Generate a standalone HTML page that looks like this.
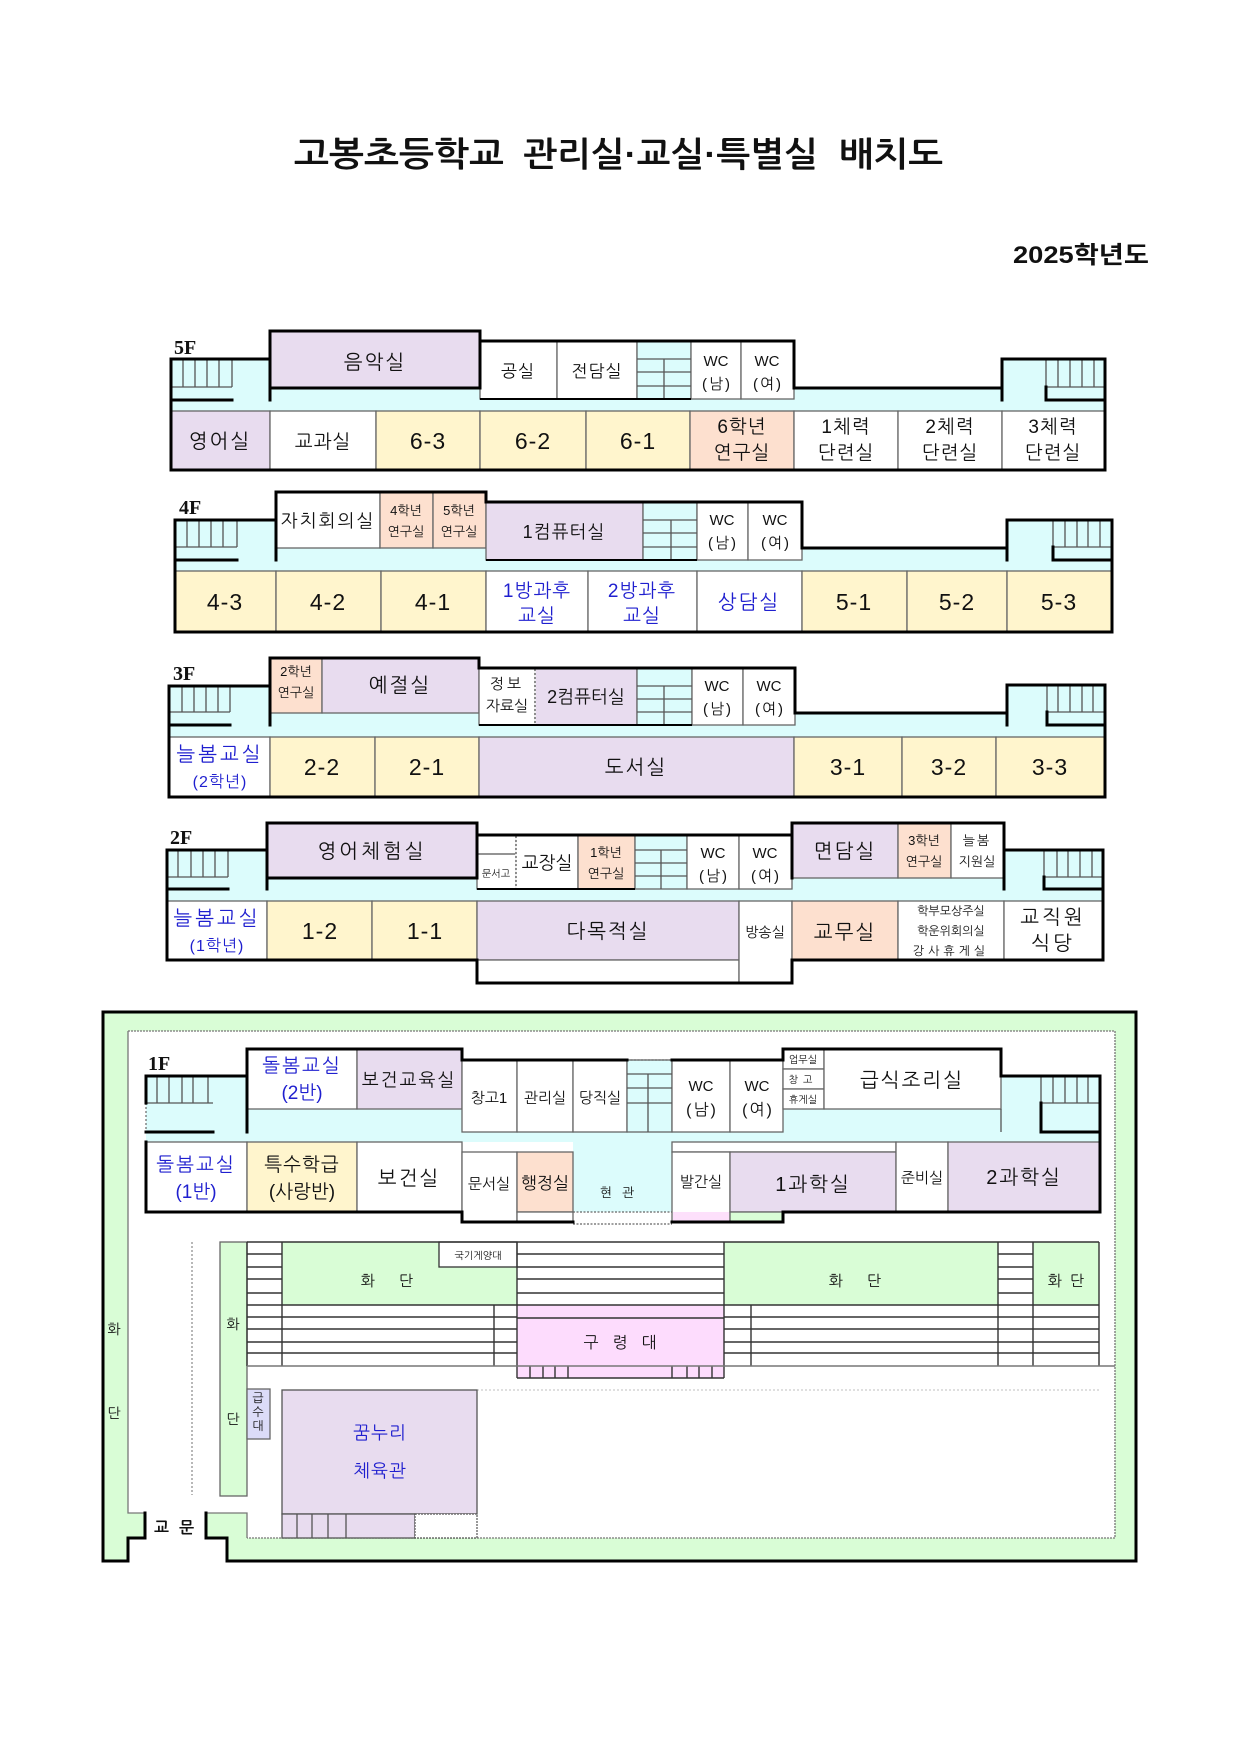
<!DOCTYPE html>
<html><head><meta charset="utf-8">
<style>
html,body{margin:0;padding:0;background:#fff;}
svg{display:block;}
text{font-family:"Liberation Sans","NanumGothic","Noto Sans CJK KR",sans-serif;fill:#111;text-anchor:middle;}
.c{stroke:#666;stroke-width:1.3;}
.t{stroke:#555;stroke-width:1.3;fill:none;}
.k{stroke:#000;stroke-width:3;fill:none;stroke-linecap:square;}
.b{fill:#1f1fcf;}
.fl{font-family:"Liberation Serif",serif;font-weight:bold;font-size:20px;text-anchor:start;}
.wc{font-family:"Liberation Sans Narrow","Liberation Sans",sans-serif;font-size:15px;}
.p{font-size:15px;letter-spacing:2px;}
.L{font-size:20px;letter-spacing:2px;}
.M{font-size:19px;letter-spacing:1px;}
.N{font-size:23px;letter-spacing:1px;}
</style></head>
<body>
<svg width="1240" height="1753" viewBox="0 0 1240 1753" xmlns="http://www.w3.org/2000/svg">
<rect width="1240" height="1753" fill="#fff"/>

<!-- Title -->
<g style='font-family:"Liberation Sans","Noto Sans CJK KR",sans-serif' font-weight="bold" font-size="34">
<text x="294" y="166" style="text-anchor:start" textLength="210" lengthAdjust="spacingAndGlyphs">고봉초등학교</text>
<text x="523" y="166" style="text-anchor:start" textLength="295" lengthAdjust="spacingAndGlyphs">관리실·교실·특별실</text>
<text x="839" y="166" style="text-anchor:start" textLength="104" lengthAdjust="spacingAndGlyphs">배치도</text>
</g>
<text x="1013" y="263" font-size="24" font-weight="bold" textLength="136" lengthAdjust="spacingAndGlyphs" style='text-anchor:start;font-family:"Liberation Sans","Noto Sans CJK KR",sans-serif'>2025학년도</text>

<!-- ================= 5F ================= -->
<g>
<rect x="171" y="359" width="99" height="52" fill="#dcfcfc"/>
<rect x="171" y="388" width="934" height="23" fill="#dcfcfc"/>
<rect x="1002" y="359" width="103" height="52" fill="#dcfcfc"/>
<rect class="c" x="270" y="331" width="210" height="57" fill="#e8dcef"/>
<rect class="c" x="480" y="341" width="77" height="58" fill="#fff"/>
<rect class="c" x="557" y="341" width="80" height="58" fill="#fff"/>
<rect class="c" x="637" y="341" width="54" height="58" fill="#dcfcfc"/>
<rect class="c" x="691" y="341" width="50" height="58" fill="#fff"/>
<rect class="c" x="741" y="341" width="53" height="58" fill="#fff"/>
<path class="t" d="M637,359H691M637,372H691M637,386H691M664,359V399"/>
<path class="t" d="M183,359V387M195,359V387M207,359V387M219,359V387M232,359V387M171,387H232"/>
<path class="t" d="M1046,359V387M1058,359V387M1070,359V387M1082,359V387M1094,359V387M1046,387H1105"/>
<rect class="c" x="171" y="411" width="99" height="59" fill="#e8dcef"/>
<rect class="c" x="270" y="411" width="106" height="59" fill="#fff"/>
<rect class="c" x="376" y="411" width="104" height="59" fill="#fff5cd"/>
<rect class="c" x="480" y="411" width="106" height="59" fill="#fff5cd"/>
<rect class="c" x="586" y="411" width="104" height="59" fill="#fff5cd"/>
<rect class="c" x="690" y="411" width="104" height="59" fill="#fde0cf"/>
<rect class="c" x="794" y="411" width="104" height="59" fill="#fff"/>
<rect class="c" x="898" y="411" width="104" height="59" fill="#fff"/>
<rect class="c" x="1002" y="411" width="103" height="59" fill="#fff"/>
<path class="k" d="M171,470V359H270M270,331H480V388M270,331V400M270,388H480M480,341H794V388H1002V359H1105V470H171M1002,388V400M171,400H232M1046,387V400H1105"/>
<path d="M480,399H691" stroke="#000" stroke-width="2"/>
<text class="fl" x="174" y="354">5F</text>
<text class="L" x="375" y="369">음악실</text>
<text x="518" y="377" font-size="17" letter-spacing="1">공실</text>
<text x="597" y="377" font-size="17" letter-spacing="1">전담실</text>
<text class="wc" x="716" y="366">WC</text><text class="p" x="717" y="389">(남)</text>
<text class="wc" x="767" y="366">WC</text><text class="p" x="768" y="389">(여)</text>
<text class="L" x="220" y="448">영어실</text>
<text class="M" x="323" y="448">교과실</text>
<text class="N" x="428" y="449">6-3</text>
<text class="N" x="533" y="449">6-2</text>
<text class="N" x="638" y="449">6-1</text>
<text class="M" x="742" y="433">6학년</text><text class="M" x="742" y="459">연구실</text>
<text class="M" x="846" y="433">1체력</text><text class="M" x="846" y="459">단련실</text>
<text class="M" x="950" y="433">2체력</text><text class="M" x="950" y="459">단련실</text>
<text class="M" x="1053" y="433">3체력</text><text class="M" x="1053" y="459">단련실</text>
</g>

<!-- ================= 4F ================= -->
<g>
<rect x="175" y="520" width="101" height="51" fill="#dcfcfc"/>
<rect x="175" y="548" width="937" height="23" fill="#dcfcfc"/>
<rect x="1007" y="520" width="105" height="51" fill="#dcfcfc"/>
<rect class="c" x="276" y="492" width="104" height="56" fill="#fff"/>
<rect class="c" x="380" y="492" width="53" height="56" fill="#fde0cf"/>
<rect class="c" x="433" y="492" width="53" height="56" fill="#fde0cf"/>
<rect class="c" x="486" y="502" width="157" height="58" fill="#e8dcef"/>
<rect class="c" x="643" y="502" width="54" height="58" fill="#dcfcfc"/>
<rect class="c" x="697" y="502" width="51" height="58" fill="#fff"/>
<rect class="c" x="748" y="502" width="54" height="58" fill="#fff"/>
<path class="t" d="M643,520H697M643,533H697M643,547H697M671,520V560"/>
<path class="t" d="M187,520V547M199,520V547M211,520V547M223,520V547M237,520V547M175,547H237"/>
<path class="t" d="M1053,520V547M1065,520V547M1077,520V547M1088,520V547M1100,520V547M1053,547H1112"/>
<rect class="c" x="175" y="571" width="101" height="61" fill="#fff5cd"/>
<rect class="c" x="276" y="571" width="105" height="61" fill="#fff5cd"/>
<rect class="c" x="381" y="571" width="105" height="61" fill="#fff5cd"/>
<rect class="c" x="486" y="571" width="102" height="61" fill="#fff"/>
<rect class="c" x="588" y="571" width="109" height="61" fill="#fff"/>
<rect class="c" x="697" y="571" width="105" height="61" fill="#fff"/>
<rect class="c" x="802" y="571" width="105" height="61" fill="#fff5cd"/>
<rect class="c" x="907" y="571" width="100" height="61" fill="#fff5cd"/>
<rect class="c" x="1007" y="571" width="105" height="61" fill="#fff5cd"/>
<path class="k" d="M175,632V520H276M276,492H486V502M276,492V560M486,502H802V548H1007V520H1112V632H175M1007,548V560M175,560H237M1053,547V560H1112"/>
<path d="M486,560H697" stroke="#000" stroke-width="2"/>
<text class="fl" x="179" y="514">4F</text>
<text x="328" y="527" font-size="18" letter-spacing="2">자치회의실</text>
<text x="406" y="515" font-size="13">4학년</text><text x="406" y="536" font-size="13">연구실</text>
<text x="459" y="515" font-size="13">5학년</text><text x="459" y="536" font-size="13">연구실</text>
<text x="564" y="538" font-size="18" letter-spacing="1">1컴퓨터실</text>
<text class="wc" x="722" y="525">WC</text><text class="p" x="723" y="548">(남)</text>
<text class="wc" x="775" y="525">WC</text><text class="p" x="776" y="548">(여)</text>
<text class="N" x="225" y="610">4-3</text>
<text class="N" x="328" y="610">4-2</text>
<text class="N" x="433" y="610">4-1</text>
<text class="b M" x="537" y="597">1방과후</text><text class="b M" x="537" y="622">교실</text>
<text class="b M" x="642" y="597">2방과후</text><text class="b M" x="642" y="622">교실</text>
<text class="b L" x="749" y="609">상담실</text>
<text class="N" x="854" y="610">5-1</text>
<text class="N" x="957" y="610">5-2</text>
<text class="N" x="1059" y="610">5-3</text>
</g>

<!-- ================= 3F ================= -->
<g>
<rect x="169" y="686" width="101" height="51" fill="#dcfcfc"/>
<rect x="169" y="713" width="936" height="24" fill="#dcfcfc"/>
<rect x="1007" y="685" width="98" height="52" fill="#dcfcfc"/>
<rect class="c" x="270" y="658" width="52" height="55" fill="#fde0cf"/>
<rect class="c" x="322" y="658" width="157" height="55" fill="#e8dcef"/>
<rect class="c" x="479" y="668" width="56" height="57" fill="#fff"/>
<rect class="c" x="535" y="668" width="102" height="57" fill="#e8dcef"/>
<rect class="c" x="637" y="668" width="55" height="57" fill="#dcfcfc"/>
<rect class="c" x="692" y="668" width="51" height="57" fill="#fff"/>
<rect class="c" x="743" y="668" width="52" height="57" fill="#fff"/>
<path d="M535,669V724" stroke="#fff" stroke-width="1.6"/>
<path d="M535,669V724" stroke="#555" stroke-width="1.2" stroke-dasharray="2,2"/>
<path class="t" d="M637,686H692M637,699H692M637,712H692M664,686V725"/>
<path class="t" d="M182,686V712M194,686V712M206,686V712M218,686V712M230,686V712M169,712H230"/>
<path class="t" d="M1047,685V712M1058,685V712M1070,685V712M1082,685V712M1093,685V712M1047,712H1105"/>
<rect class="c" x="169" y="737" width="101" height="60" fill="#fff"/>
<rect class="c" x="270" y="737" width="105" height="60" fill="#fff5cd"/>
<rect class="c" x="375" y="737" width="104" height="60" fill="#fff5cd"/>
<rect class="c" x="479" y="737" width="315" height="60" fill="#e8dcef"/>
<rect class="c" x="794" y="737" width="108" height="60" fill="#fff5cd"/>
<rect class="c" x="902" y="737" width="94" height="60" fill="#fff5cd"/>
<rect class="c" x="996" y="737" width="109" height="60" fill="#fff5cd"/>
<path class="k" d="M169,797V686H270M270,658H479V668M270,658V725M479,668H795V713H1007V685H1105V797H169M1007,713V725M169,725H230M1047,712V725H1105"/>
<path d="M479,725H692" stroke="#000" stroke-width="2"/>
<text class="fl" x="173" y="680">3F</text>
<text x="296" y="676" font-size="13">2학년</text><text x="296" y="697" font-size="13">연구실</text>
<text class="L" x="400" y="692">예절실</text>
<text x="507" y="689" font-size="15" letter-spacing="3">정보</text><text x="507" y="711" font-size="15">자료실</text>
<text x="586" y="703" font-size="18">2컴퓨터실</text>
<text class="wc" x="717" y="691">WC</text><text class="p" x="718" y="714">(남)</text>
<text class="wc" x="769" y="691">WC</text><text class="p" x="770" y="714">(여)</text>
<text class="b" x="220" y="761" font-size="20" letter-spacing="3">늘봄교실</text><text class="b" x="220" y="787" font-size="16" letter-spacing="1">(2학년)</text>
<text class="N" x="322" y="775">2-2</text>
<text class="N" x="427" y="775">2-1</text>
<text class="L" x="636" y="774">도서실</text>
<text class="N" x="848" y="775">3-1</text>
<text class="N" x="949" y="775">3-2</text>
<text class="N" x="1050" y="775">3-3</text>
</g>

<!-- ================= 2F ================= -->
<g>
<rect x="167" y="850" width="100" height="51" fill="#dcfcfc"/>
<rect x="167" y="878" width="936" height="23" fill="#dcfcfc"/>
<rect x="1004" y="850" width="99" height="51" fill="#dcfcfc"/>
<rect class="c" x="267" y="823" width="210" height="55" fill="#e8dcef"/>
<rect class="c" x="477" y="835" width="39" height="54" fill="#fff"/>
<rect class="c" x="516" y="835" width="62" height="54" fill="#fff"/>
<rect class="c" x="578" y="835" width="57" height="54" fill="#fde0cf"/>
<rect class="c" x="635" y="835" width="52" height="54" fill="#dcfcfc"/>
<rect class="c" x="687" y="835" width="52" height="54" fill="#fff"/>
<rect class="c" x="739" y="835" width="53" height="54" fill="#fff"/>
<rect class="c" x="792" y="823" width="106" height="55" fill="#e8dcef"/>
<rect class="c" x="898" y="823" width="53" height="55" fill="#fde0cf"/>
<rect class="c" x="951" y="823" width="53" height="55" fill="#fff"/>
<path class="t" d="M477,854H516"/>
<path d="M516,836V888" stroke="#fff" stroke-width="1.6"/>
<path d="M516,836V888" stroke="#555" stroke-width="1.2" stroke-dasharray="2,2"/>
<path class="t" d="M635,850H687M635,863H687M635,876H687M661,850V889"/>
<path class="t" d="M178,850V877M191,850V877M203,850V877M215,850V877M228,850V877M167,877H228"/>
<path class="t" d="M1044,850V877M1057,850V877M1068,850V877M1080,850V877M1092,850V877M1044,877H1103"/>
<rect class="c" x="167" y="901" width="100" height="59" fill="#fff"/>
<rect class="c" x="267" y="901" width="105" height="59" fill="#fff5cd"/>
<rect class="c" x="372" y="901" width="105" height="59" fill="#fff5cd"/>
<rect class="c" x="477" y="901" width="262" height="59" fill="#e8dcef"/>
<rect class="c" x="477" y="960" width="262" height="23" fill="#fff"/>
<rect class="c" x="739" y="901" width="53" height="82" fill="#fff"/>
<rect class="c" x="792" y="901" width="106" height="59" fill="#fde0cf"/>
<rect class="c" x="898" y="901" width="106" height="59" fill="#fff"/>
<rect class="c" x="1004" y="901" width="99" height="59" fill="#fff"/>
<path class="k" d="M167,960V850H267M267,823H477V878H267M267,823V889M477,835H792M792,823H1004V850H1103V960H792V983H477V960H167M792,823V878M1004,850V889M167,889H228M1044,877V889H1103"/>
<path d="M477,889H635" stroke="#000" stroke-width="2"/>
<text class="fl" x="170" y="844">2F</text>
<text x="372" y="858" font-size="20" letter-spacing="3">영어체험실</text>
<text x="496" y="877" font-size="10">문서고</text>
<text x="547" y="869" font-size="18">교장실</text>
<text x="606" y="857" font-size="13">1학년</text><text x="606" y="878" font-size="13">연구실</text>
<text class="wc" x="713" y="858">WC</text><text class="p" x="714" y="881">(남)</text>
<text class="wc" x="765" y="858">WC</text><text class="p" x="766" y="881">(여)</text>
<text class="L" x="845" y="858">면담실</text>
<text x="924" y="845" font-size="13">3학년</text><text x="924" y="866" font-size="13">연구실</text>
<text x="977" y="845" font-size="13" letter-spacing="2">늘봄</text><text x="977" y="866" font-size="13">지원실</text>
<text class="b" x="217" y="925" font-size="20" letter-spacing="3">늘봄교실</text><text class="b" x="217" y="951" font-size="16" letter-spacing="1">(1학년)</text>
<text class="N" x="320" y="939">1-2</text>
<text class="N" x="425" y="939">1-1</text>
<text class="L" x="608" y="938">다목적실</text>
<text x="765" y="937" font-size="14">방송실</text>
<text class="L" x="845" y="939">교무실</text>
<text x="951" y="915" font-size="12">학부모상주실</text>
<text x="951" y="935" font-size="12">학운위회의실</text>
<text x="951" y="955" font-size="12" letter-spacing="4">강사휴게실</text>
<text x="1053" y="924" font-size="20" letter-spacing="3">교직원</text><text x="1053" y="950" font-size="20" letter-spacing="3">식당</text>
</g>

<!-- ================= 1F ================= -->
<g>
<rect x="103" y="1012" width="1033" height="549" fill="#d9fdd6"/>
<path d="M128,1031H1115V1538H247V1513H206V1538H227V1565H128V1538H145V1513H128Z" fill="#fff"/>
<path d="M128,1031H1115V1538H247" fill="none" stroke="#777" stroke-width="1.3" stroke-dasharray="2,1"/>
<path d="M128,1031V1513H145M206,1513H247V1538" fill="none" stroke="#777" stroke-width="1.3"/>
<path class="k" d="M145,1513V1538H128V1561H103V1012H1136V1561H227V1538H206V1513"/>

<rect x="146" y="1076" width="101" height="66" fill="#dcfcfc"/>
<rect x="146" y="1109" width="954" height="33" fill="#dcfcfc"/>
<rect x="1001" y="1076" width="99" height="66" fill="#dcfcfc"/>
<rect x="573" y="1142" width="99" height="70" fill="#dcfcfc"/>
<rect class="c" x="247" y="1049" width="110" height="60" fill="#fff"/>
<rect class="c" x="357" y="1049" width="105" height="60" fill="#e8dcef"/>
<rect class="c" x="462" y="1060" width="55" height="72" fill="#fff"/>
<rect class="c" x="517" y="1060" width="56" height="72" fill="#fff"/>
<rect class="c" x="573" y="1060" width="54" height="72" fill="#fff"/>
<rect class="c" x="627" y="1060" width="45" height="72" fill="#dcfcfc"/>
<rect class="c" x="672" y="1060" width="58" height="72" fill="#fff"/>
<rect class="c" x="730" y="1060" width="53" height="72" fill="#fff"/>
<rect class="c" x="783" y="1049" width="41" height="20" fill="#fff"/>
<rect class="c" x="783" y="1069" width="41" height="20" fill="#fff"/>
<rect class="c" x="783" y="1089" width="41" height="20" fill="#fff"/>
<rect class="c" x="824" y="1049" width="177" height="60" fill="#fff"/>
<path class="t" d="M627,1074H672M627,1088H672M627,1103H672M648,1074V1132M1001,1109V1132"/>
<path class="t" d="M157,1076V1103M169,1076V1103M182,1076V1103M193,1076V1103M208,1076V1103M146,1103H213"/>
<path class="t" d="M1041,1076V1103M1053,1076V1103M1065,1076V1103M1077,1076V1103M1088,1076V1103M1041,1103H1100"/>
<rect class="c" x="146" y="1142" width="101" height="70" fill="#fff"/>
<rect class="c" x="247" y="1142" width="110" height="70" fill="#fff5cd"/>
<rect class="c" x="357" y="1142" width="105" height="70" fill="#fff"/>
<rect class="c" x="462" y="1152" width="55" height="70" fill="#fff"/>
<rect class="c" x="517" y="1152" width="56" height="60" fill="#fde0cf"/>
<rect class="c" x="517" y="1212" width="56" height="10" fill="#fff"/>
<rect class="c" x="672" y="1142" width="224" height="10" fill="#fff"/>
<rect class="c" x="672" y="1152" width="58" height="70" fill="#fff"/>
<rect x="673" y="1212" width="56" height="9" fill="#fde0fb"/>
<rect class="c" x="730" y="1152" width="166" height="60" fill="#e8dcef"/>
<rect class="c" x="730" y="1212" width="53" height="10" fill="#d9fdd6"/>
<rect class="c" x="896" y="1142" width="52" height="70" fill="#fff"/>
<rect class="c" x="948" y="1142" width="152" height="70" fill="#e8dcef"/>
<path d="M573,1212H672M573,1224H672M627,1060H672" stroke="#666" stroke-width="1.2" stroke-dasharray="2,1.5" fill="none"/>
<path d="M146,1103V1132" stroke="#666" stroke-width="1.2" stroke-dasharray="2,2"/>
<path class="k" d="M146,1103V1076H247M247,1049H462V1060H627M672,1060H783V1049H1001V1076H1100V1212H783V1222H672M573,1222H462V1212H146V1142M247,1049V1132M146,1132H213M1041,1103V1132H1100"/>

<text class="fl" x="148" y="1070">1F</text>
<text class="b" x="302" y="1072" font-size="19" letter-spacing="2">돌봄교실</text><text class="b" x="302" y="1099" font-size="19">(2반)</text>
<text x="409" y="1086" font-size="18" letter-spacing="2">보건교육실</text>
<text x="489" y="1103" font-size="15">창고1</text>
<text x="545" y="1103" font-size="15">관리실</text>
<text x="600" y="1103" font-size="15">당직실</text>
<text class="wc" x="701" y="1091">WC</text><text x="702" y="1115" font-size="16" letter-spacing="2">(남)</text>
<text class="wc" x="757" y="1091">WC</text><text x="758" y="1115" font-size="16" letter-spacing="2">(여)</text>
<text x="803" y="1063" font-size="10">업무실</text>
<text x="803" y="1083" font-size="10" letter-spacing="5">창고</text>
<text x="803" y="1103" font-size="10">휴게실</text>
<text x="912" y="1087" font-size="20" letter-spacing="2">급식조리실</text>
<text class="b" x="196" y="1171" font-size="19" letter-spacing="2">돌봄교실</text><text class="b" x="196" y="1198" font-size="19">(1반)</text>
<text x="302" y="1171" font-size="19" letter-spacing="1">특수학급</text><text x="302" y="1198" font-size="19">(사랑반)</text>
<text class="L" x="409" y="1185">보건실</text>
<text x="489" y="1189" font-size="15">문서실</text>
<text x="545" y="1189" font-size="17">행정실</text>
<text x="622" y="1197" font-size="13" letter-spacing="10">현관</text>
<text x="701" y="1187" font-size="15">발간실</text>
<text class="L" x="813" y="1191">1과학실</text>
<text x="922" y="1183" font-size="15">준비실</text>
<text class="L" x="1024" y="1184">2과학실</text>

<path d="M192,1242V1495" stroke="#888" stroke-width="1.2" stroke-dasharray="2,2"/>
<rect x="220" y="1242" width="27" height="254" fill="#d9fdd6" stroke="#666" stroke-width="1.3"/>
<rect x="282" y="1242" width="235" height="63" fill="#d9fdd6"/>
<rect x="724" y="1242" width="274" height="63" fill="#d9fdd6"/>
<rect x="1033" y="1242" width="66" height="63" fill="#d9fdd6"/>
<rect x="517" y="1305" width="207" height="73" fill="#fddcfd"/>
<rect x="439" y="1242" width="78" height="25" fill="#fff" stroke="#333" stroke-width="1.3"/>
<path d="M247,1242H1099M247,1254H282M247,1267H282M247,1279H282M247,1293H282M247,1305H1099M247,1317H517M247,1329H517M247,1342H517M247,1353H517M517,1254H724M517,1267H724M517,1279H724M517,1293H724M517,1318H724M724,1317H1099M724,1329H1099M724,1342H1099M724,1353H1099M998,1254H1033M998,1267H1033M998,1279H1033M998,1293H1033M247,1242V1366M282,1242V1366M494,1305V1366M517,1242V1378M724,1242V1378M751,1305V1366M998,1242V1366M1033,1242V1366M1099,1242V1366M517,1378H724M530,1366V1378M543,1366V1378M555,1366V1378M568,1366V1378M672,1366V1378M687,1366V1378M699,1366V1378M712,1366V1378" stroke="#333" stroke-width="1.4" fill="none"/>
<path d="M247,1366H1115" stroke="#777" stroke-width="1.6"/>
<path d="M477,1390H1100" stroke="#ccc" stroke-width="1.2" stroke-dasharray="2,2"/>
<rect x="247" y="1389" width="23" height="50" fill="#dcdcf8" stroke="#666" stroke-width="1.3"/>
<rect x="282" y="1390" width="195" height="124" fill="#e8dcef" stroke="#555" stroke-width="1.3"/>
<rect x="282" y="1514" width="133" height="24" fill="#e8dcef" stroke="#555" stroke-width="1.3"/>
<rect x="415" y="1514" width="62" height="24" fill="#fff" stroke="#555" stroke-width="1.2" stroke-dasharray="2,1"/>
<path d="M297,1514V1538M312,1514V1538M328,1514V1538M346,1514V1538" stroke="#555" stroke-width="1.3"/>

<text x="114" y="1334" font-size="14">화</text>
<text x="114" y="1418" font-size="14">단</text>
<text x="233" y="1329" font-size="14">화</text>
<text x="233" y="1424" font-size="14">단</text>
<text x="478" y="1259" font-size="10">국기게양대</text>
<text x="399" y="1286" font-size="15" letter-spacing="24">화단</text>
<text x="867" y="1286" font-size="15" letter-spacing="24">화단</text>
<text x="1070" y="1286" font-size="15" letter-spacing="8">화단</text>
<text x="627" y="1348" font-size="16" letter-spacing="14">구령대</text>
<text x="258" y="1402" font-size="12">급</text>
<text x="258" y="1416" font-size="12">수</text>
<text x="258" y="1430" font-size="12">대</text>
<text class="b" x="380" y="1439" font-size="18" letter-spacing="1">꿈누리</text>
<text class="b" x="380" y="1477" font-size="18" letter-spacing="1">체육관</text>
<text x="179" y="1533" font-size="16" font-weight="bold" letter-spacing="10">교문</text>
</g>
</svg>
</body></html>
